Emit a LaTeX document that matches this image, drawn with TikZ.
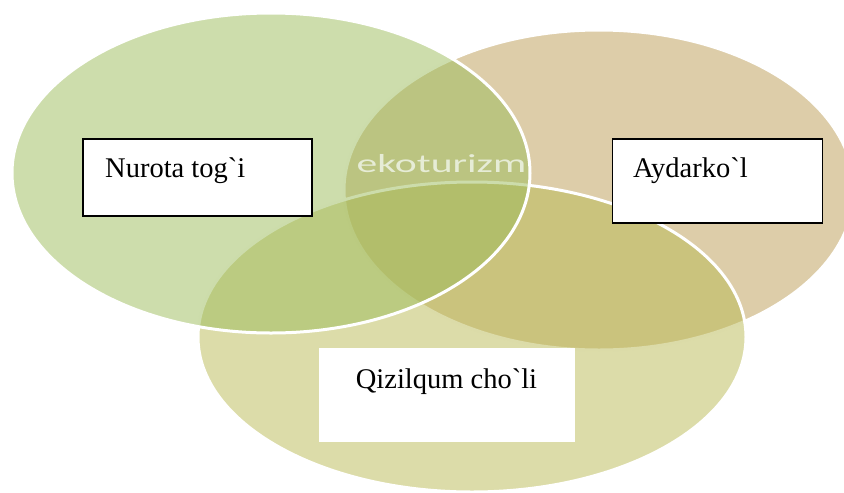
\documentclass[tikz,border=0pt]{standalone}
\usepackage{fontspec}
\newfontfamily\tnr{Liberation Serif}[Ligatures=TeXOff]
\newfontfamily\calib{Carlito}
\definecolor{vgreen}{RGB}{155,187,89}
\definecolor{vtan}{RGB}{187,155,83}
\definecolor{volive}{RGB}{185,185,83}
\definecolor{ekocol}{RGB}{230,236,214}
\begin{document}
\begin{tikzpicture}[x=1pt,y=-1pt,
  venn/.style={fill opacity=0.5, draw=white, draw opacity=1, line width=3pt},
  labelbox/.style={draw=black, fill=white, line width=1.2pt, inner sep=0pt, rectangle},
  plainbox/.style={fill=white, inner sep=0pt, rectangle},
  lbl/.style={inner sep=0pt, font=\tnr\fontsize{28.5}{33}\selectfont}]
\useasboundingbox (0,0) rectangle (844,493);
% ellipses (back to front)
\path[venn, fill=vtan] (599,190) ellipse [x radius=255pt, y radius=160pt];
\path[venn, fill=volive] (472,337) ellipse [x radius=274pt, y radius=155pt];
\path[venn, fill=vgreen] (271,173) ellipse [x radius=259pt, y radius=160pt];
% centre text
\node[inner sep=0pt, anchor=base, text=ekocol] (eko) at (441.5,172)
  {\scalebox{1.6}[1]{\calib\fontsize{26}{30}\selectfont ekoturizm}};
% boxes
\node[labelbox, minimum width=229pt, minimum height=77pt] (nur) at (197.5,177.5) {};
\node[lbl, anchor=base west] (nurt) at (105,177) {Nurota tog`i};
\node[labelbox, minimum width=210pt, minimum height=84pt] (ayd) at (717.5,181) {};
\node[lbl, anchor=base west] (aydt) at (633,177) {Aydarko`l};
\node[plainbox, minimum width=256pt, minimum height=94pt] (qiz) at (447,395) {};
\node[lbl, anchor=base] (qizt) at (446.5,388) {Qizilqum cho`li};
\end{tikzpicture}
\end{document}
